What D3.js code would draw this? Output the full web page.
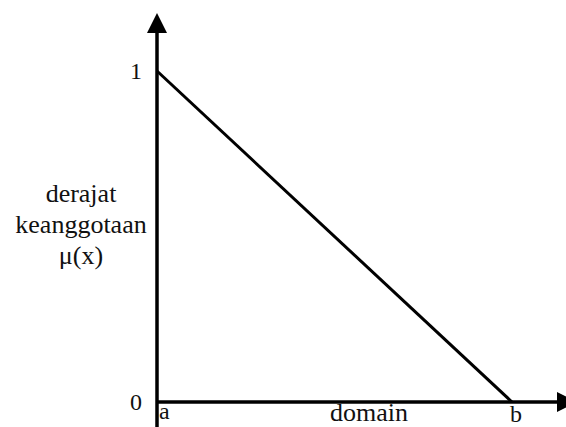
<!DOCTYPE html>
<html>
<head>
<meta charset="utf-8">
<script src="https://cdn.jsdelivr.net/npm/d3@7"></script>
<style>
  body { margin: 0; background: #fff; }
  svg text { font-family: "Liberation Serif", "Times New Roman", "DejaVu Serif", serif; fill: #111; }
</style>
</head>
<body>
<div id="chart"></div>
<script>
// membership function: linear decreasing from a to b
const domainPoints = [0, 1];          // a, b
const membership = [1, 0];            // mu(a), mu(b)
const xTickLabels = ["a", "b"];
const yTickValues = [0, 1];
const yLabelLines = ["derajat", "keanggotaan", "\u03bc(x)"];
const xLabel = "domain";

{
    let width = 566, height = 427;

    let svg = d3.select("#chart")
        .append("svg")
        .attr("width", width)
        .attr("height", height);

    // scales
    let x = d3.scaleLinear().domain([0, 1]).range([157, 512]);
    let y = d3.scaleLinear().domain([0, 1]).range([402, 71]);

    // y axis line with arrow
    svg.append("line")
        .attr("x1", x(0)).attr("x2", x(0))
        .attr("y1", height).attr("y2", 30)
        .attr("stroke", "#000")
        .attr("stroke-width", 3.5);
    svg.append("path")
        .attr("d", `M${x(0)},13 L${x(0) - 10},33 L${x(0) + 10},33 Z`)
        .attr("fill", "#000");

    // x axis line with arrow
    svg.append("line")
        .attr("x1", x(0)).attr("x2", 560)
        .attr("y1", y(0)).attr("y2", y(0))
        .attr("stroke", "#000")
        .attr("stroke-width", 3.5);
    svg.append("path")
        .attr("d", `M577,${y(0)} L557,${y(0) - 10} L557,${y(0) + 10} Z`)
        .attr("fill", "#000");

    // membership line
    let line = d3.line()
        .x(function(d, i) { return x(domainPoints[i]); })
        .y(function(d) { return y(d); });
    svg.append("path")
        .datum(membership)
        .attr("d", line)
        .attr("fill", "none")
        .attr("stroke", "#000")
        .attr("stroke-width", 3);

    // y tick labels
    svg.selectAll(".yTick")
        .data(yTickValues)
        .join("text")
        .attr("class", "yTick")
        .attr("text-anchor", "end")
        .attr("x", x(0) - 15)
        .attr("y", function(d) { return y(d); })
        .attr("dy", "0.33em")
        .style("font-size", "24px")
        .text(function(d) { return d; });

    // x tick labels
    svg.selectAll(".xTick")
        .data(xTickLabels)
        .join("text")
        .attr("class", "xTick")
        .attr("text-anchor", function(d, i) { return i == 0 ? "start" : "middle"; })
        .attr("x", function(d, i) { return x(domainPoints[i]) + (i == 0 ? 2 : 4); })
        .attr("y", function(d, i) { return i == 0 ? 419 : 422; })
        .style("font-size", "24px")
        .text(function(d) { return d; });

    // x axis label
    svg.append("text")
        .attr("text-anchor", "middle")
        .attr("x", 369)
        .attr("y", 421)
        .style("font-size", "26px")
        .text(xLabel);

    // y axis label
    svg.append("text")
        .attr("text-anchor", "middle")
        .style("font-size", "26px")
        .selectAll("tspan")
        .data(yLabelLines)
        .join("tspan")
        .attr("x", 81)
        .attr("y", function(d, i) { return 202 + i * 31; })
        .text(function(d) { return d; });
}
</script>
</body>
</html>
